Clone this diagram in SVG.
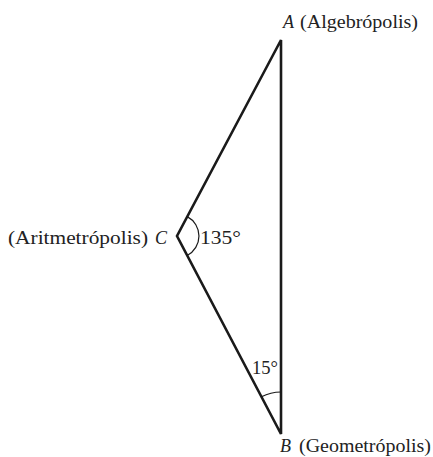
<svg xmlns="http://www.w3.org/2000/svg" width="433" height="457" viewBox="0 0 433 457">
<style>
text{font-family:"Liberation Serif","DejaVu Serif",serif;font-size:18px;fill:#222}
.it{font-style:italic}
.side{fill:none;stroke:#1a1a1a;stroke-width:2.6;stroke-linejoin:miter}
.arc{fill:none;stroke:#1a1a1a;stroke-width:1.2}
</style>
<rect width="433" height="457" fill="#fff"/>
<g id="connectors">
<path class="side" d="M281,40 L177,236 L281,434 Z"/>
<path class="arc" d="M187.3,216.6 A22,22 0 0 1 187.2,255.5"/>
<path class="arc" d="M281,392 A42,42 0 0 0 261.5,396.8"/>
</g>
<g id="A"><text class="it" x="283" y="28">A</text><text x="300" y="28" textLength="118" lengthAdjust="spacingAndGlyphs">(Algebrópolis)</text></g>
<g id="C"><text x="8" y="244" textLength="140" lengthAdjust="spacingAndGlyphs">(Aritmetrópolis)</text><text class="it" x="155" y="244">C</text></g>
<g id="B"><text class="it" x="280" y="452">B</text><text x="299" y="452" textLength="132" lengthAdjust="spacingAndGlyphs">(Geometrópolis)</text></g>
<g id="angleC"><text x="200" y="244" textLength="41" lengthAdjust="spacingAndGlyphs">135°</text></g>
<g id="angleB"><text x="252" y="374" textLength="26" lengthAdjust="spacingAndGlyphs">15°</text></g>
</svg>
